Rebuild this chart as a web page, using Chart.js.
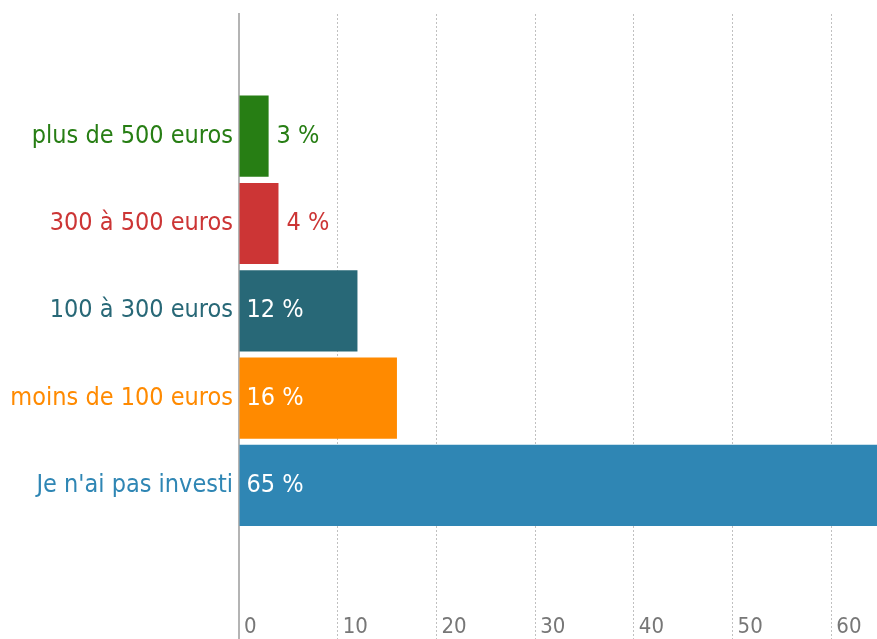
<!DOCTYPE html>
<html>
<head>
<meta charset="utf-8">
<script src="https://cdn.jsdelivr.net/npm/chart.js@4/dist/chart.umd.min.js"></script>
<style>
  html, body { margin: 0; padding: 0; background: #fff; overflow: hidden; }
  #wrap { width: 930px; height: 639px; }
</style>
</head>
<body>
<div id="wrap"><canvas id="chart" width="930" height="639"></canvas></div>
<script>
// Data
const categories = ['plus de 500 euros', '300 à 500 euros', '100 à 300 euros', 'moins de 100 euros', "Je n'ai pas investi"];
const values = [3, 4, 12, 16, 65];
const barColors = ['#277e14', '#cc3535', '#286877', '#ff8a00', '#2f86b4'];
const xTicks = [0, 10, 20, 30, 40, 50, 60, 70];

const FONT = "'Liberation Sans Narrow', 'DejaVu Sans Condensed', sans-serif";

// Draw the "n %" labels next to / inside each bar
const valueLabels = {
    id: 'valueLabels',
    afterDatasetsDraw(chart) {
        const ctx = chart.ctx;
        const meta = chart.getDatasetMeta(0);
        ctx.save();
        ctx.font = '25px ' + FONT;
        ctx.textBaseline = 'middle';
        ctx.textAlign = 'left';
        meta.data.forEach((bar, i) => {
            const v = values[i];
            const text = v + ' %';
            if (v < 10) {
                ctx.fillStyle = barColors[i];
                ctx.fillText(text, bar.x + 8, bar.y);
            } else {
                ctx.fillStyle = '#ffffff';
                ctx.fillText(text, bar.base + 7, bar.y);
            }
        });
        ctx.restore();
    }
};

const ctx = document.getElementById('chart').getContext('2d');
new Chart(ctx, {
    type: 'bar',
    data: {
        datasets: [{
            data: values.map((v, i) => ({ x: v, y: i })),
            backgroundColor: barColors,
            borderWidth: 0,
            barPercentage: 0.93,
            categoryPercentage: 1
        }]
    },
    options: {
        indexAxis: 'y',
        responsive: false,
        animation: false,
        layout: { padding: { top: 14, left: 0, right: 0, bottom: 0 } },
        plugins: {
            legend: { display: false },
            tooltip: { enabled: false }
        },
        scales: {
            x: {
                type: 'linear',
                min: 0,
                max: 70,
                afterBuildTicks: (s) => { s.ticks = xTicks.map(v => ({ value: v })); },
                afterFit: (s) => { s.height = 0; s.paddingLeft = 0; s.paddingRight = 0; },
                grid: { color: '#c0c0c0', lineWidth: 1, drawTicks: false },
                border: { display: false, dash: [2, 2] },
                ticks: {
                    mirror: true,
                    align: 'start',
                    labelOffset: 5,
                    padding: -1,
                    autoSkip: false,
                    maxRotation: 0,
                    color: '#777777',
                    font: { family: FONT, size: 22 }
                }
            },
            y: {
                type: 'linear',
                reverse: true,
                offset: false,
                min: -1.4,
                max: 5.76,
                afterBuildTicks: (s) => { s.ticks = categories.map((c, i) => ({ value: i })); },
                afterFit: (s) => { s.width = 239; s.paddingTop = 0; s.paddingBottom = 0; },
                grid: { display: false, drawTicks: false, offset: false },
                border: { display: true, color: '#b4b4b4', width: 2 },
                ticks: {
                    padding: 6,
                    autoSkip: false,
                    callback: (v) => categories[v] ?? '',
                    color: (c) => barColors[c.tick ? c.tick.value : c.index] || '#666',
                    font: { family: FONT, size: 25 }
                }
            }
        }
    },
    plugins: [valueLabels]
});
</script>
</body>
</html>
